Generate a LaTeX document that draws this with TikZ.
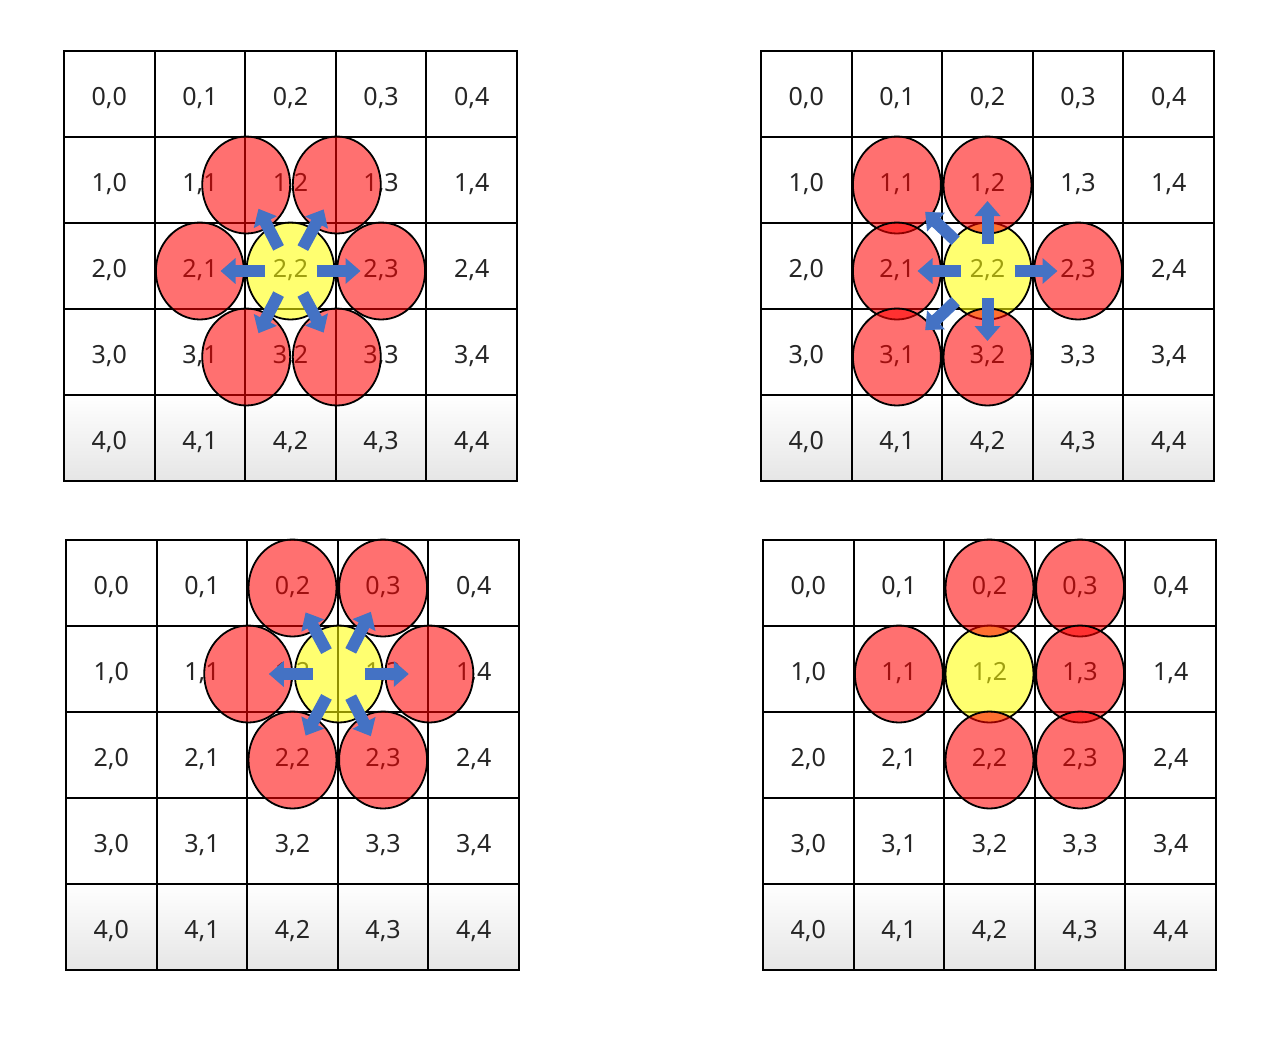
\documentclass[tikz,border=0pt]{standalone}
\usepackage{fontspec}
\setmainfont{Noto Sans}
\usetikzlibrary{arrows.meta, shapes.geometric, calc}
\definecolor{HexRed}{RGB}{255, 0, 0}
\definecolor{HexYellow}{RGB}{255, 255, 0}
\definecolor{PushBlue}{RGB}{68, 114, 196}
\tikzset{
  cell/.style={rectangle, draw=black, line width=2pt,
               minimum width=90.6pt, minimum height=86pt, inner sep=0pt,
               text height=22pt, text depth=0pt,
               font=\fontsize{25}{30}\selectfont, text=black!85},
  lastcell/.style={cell, top color=white, bottom color=black!10},
  nbr/.style={ellipse, draw=black, line width=1.8pt, fill=#1, fill opacity=0.56,
              minimum width=88pt, minimum height=97pt, inner sep=0pt, yshift=-5pt},
  push/.style={-{Triangle[width=25pt, length=15pt]}, line width=12pt, color=PushBlue},
}

\begin{document}
\begin{tikzpicture}[x=1pt, y=-1pt]
  \fill[white] (0,0) rectangle (1286,1044);
  \useasboundingbox (0,0) rectangle (1286,1044);

  % four 5x5 grids
  \foreach \g/\gx/\gy in {A/64/51, B/761/51, C/66/540, D/763/540}{
    \foreach \r in {0,...,4}{
      \foreach \c in {0,...,4}{
        \ifnum\r<4
          \node[cell] (\g-\r-\c) at ({\gx+45.3+\c*90.6}, {\gy+43+\r*86}) {\r,\c};
        \else
          \node[lastcell] (\g-\r-\c) at ({\gx+45.3+\c*90.6}, {\gy+43+\r*86}) {\r,\c};
        \fi
      }
    }
  }

  % grid A: hex neighbours of 2,2
  \node[nbr=HexYellow] (A-mid) at (A-2-2) {};
  \node[nbr=HexRed] (A-n11) at (A-1-1.east) {};
  \node[nbr=HexRed] (A-n12) at (A-1-2.east) {};
  \node[nbr=HexRed] (A-n21) at (A-2-1) {};
  \node[nbr=HexRed] (A-n23) at (A-2-3) {};
  \node[nbr=HexRed] (A-n31) at (A-3-1.east) {};
  \node[nbr=HexRed] (A-n32) at (A-3-2.east) {};
  \foreach \n in {n11, n12, n21, n23, n31, n32}
    \draw[push] ($(A-mid)!26pt!(A-\n)$) -- ($(A-mid)!70pt!(A-\n)$);

  % grid B: square cells
  \node[nbr=HexYellow] (B-mid) at (B-2-2) {};
  \node[nbr=HexRed] (B-n11) at (B-1-1) {};
  \node[nbr=HexRed] (B-n12) at (B-1-2) {};
  \node[nbr=HexRed] (B-n21) at (B-2-1) {};
  \node[nbr=HexRed] (B-n23) at (B-2-3) {};
  \node[nbr=HexRed] (B-n31) at (B-3-1) {};
  \node[nbr=HexRed] (B-n32) at (B-3-2) {};
  \foreach \n in {n12, n21, n23, n32}
    \draw[push] ($(B-mid)!27pt!(B-\n)$) -- ($(B-mid)!70pt!(B-\n)$);
  \foreach \n in {n11, n31}
    \draw[push] ($(B-mid)!44pt!(B-\n)$) -- ($(B-mid)!86pt!(B-\n)$);

  % grid C: centre on the 1,2 / 1,3 border
  \node[nbr=HexYellow] (C-mid) at (C-1-2.east) {};
  \node[nbr=HexRed] (C-n02) at (C-0-2) {};
  \node[nbr=HexRed] (C-n03) at (C-0-3) {};
  \node[nbr=HexRed] (C-n11) at (C-1-1.east) {};
  \node[nbr=HexRed] (C-n13) at (C-1-3.east) {};
  \node[nbr=HexRed] (C-n22) at (C-2-2) {};
  \node[nbr=HexRed] (C-n23) at (C-2-3) {};
  \foreach \n in {n02, n03, n11, n13, n22, n23}
    \draw[push] ($(C-mid)!26pt!(C-\n)$) -- ($(C-mid)!70pt!(C-\n)$);

  % grid D: result on square cells
  \node[nbr=HexYellow] (D-mid) at (D-1-2) {};
  \node[nbr=HexRed] (D-n02) at (D-0-2) {};
  \node[nbr=HexRed] (D-n03) at (D-0-3) {};
  \node[nbr=HexRed] (D-n11) at (D-1-1) {};
  \node[nbr=HexRed] (D-n13) at (D-1-3) {};
  \node[nbr=HexRed] (D-n22) at (D-2-2) {};
  \node[nbr=HexRed] (D-n23) at (D-2-3) {};
\end{tikzpicture}
\end{document}
